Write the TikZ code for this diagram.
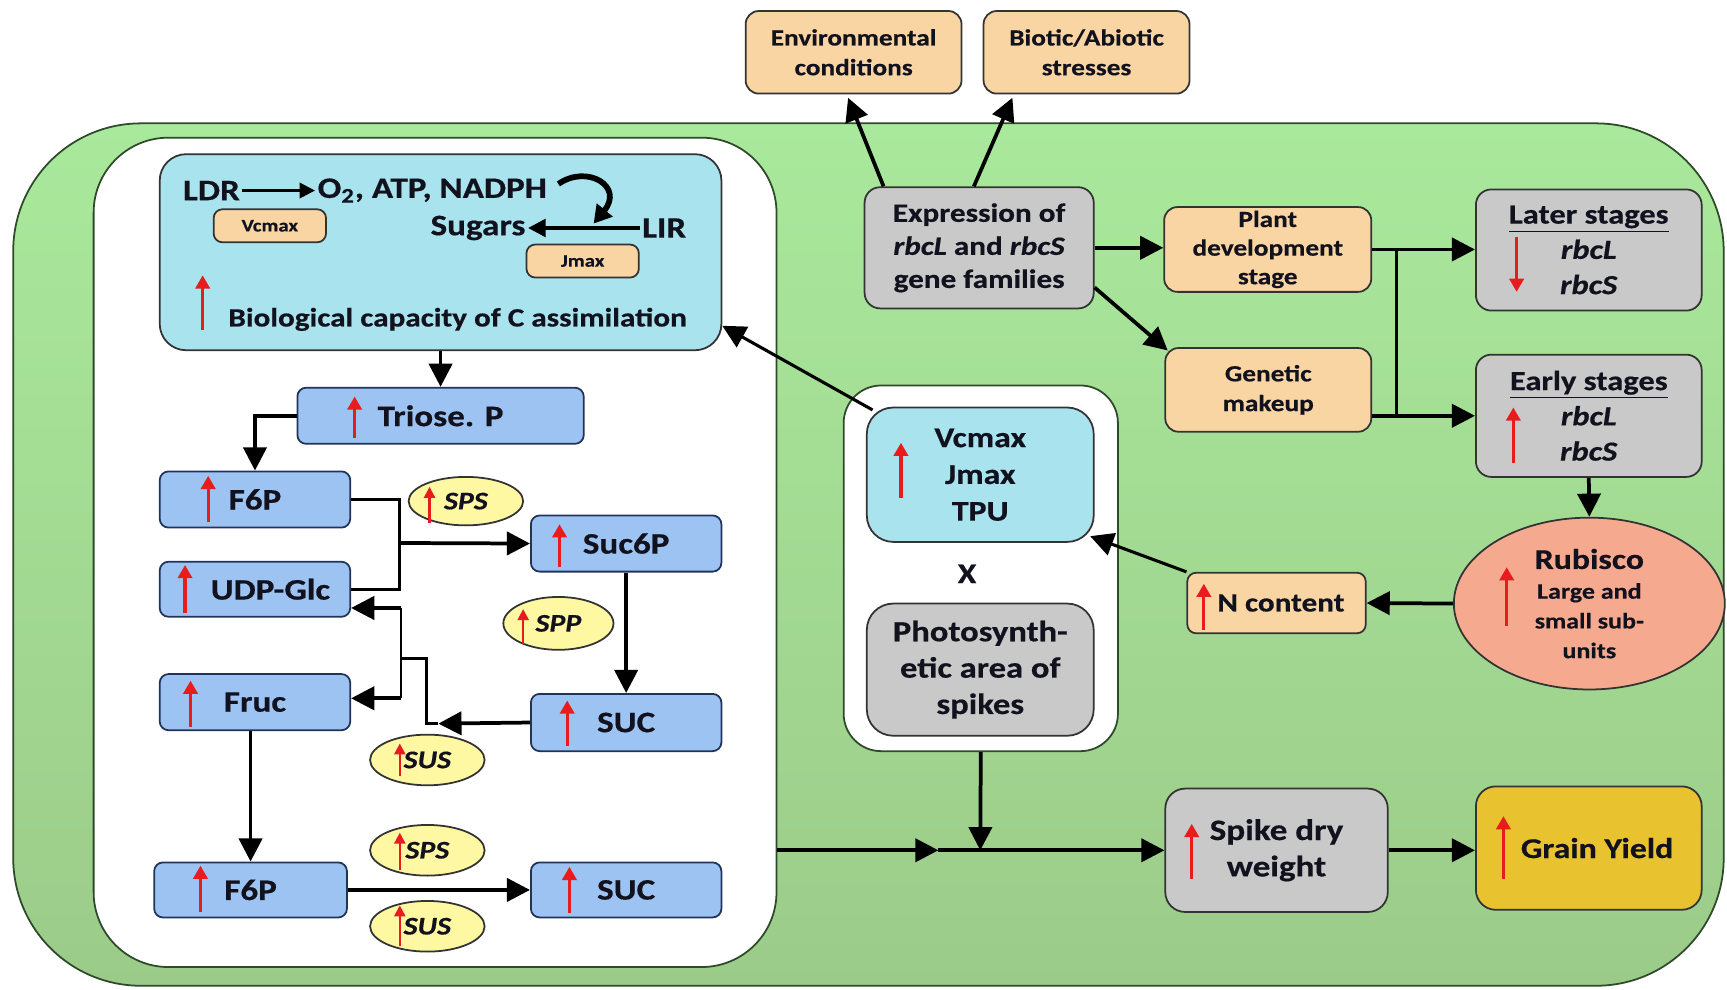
\documentclass[tikz,border=0pt]{standalone}
\usepackage{fontspec}
\setmainfont{Carlito}[FakeStretch=1.18, BoldFeatures={FakeBold=0.5}, BoldItalicFeatures={FakeBold=0.5}]
\usetikzlibrary{arrows.meta,calc,shapes.geometric}
\definecolor{gtop}{HTML}{A9E99C}
\definecolor{gbot}{HTML}{9CCB89}
\definecolor{gedge}{HTML}{2E4A2A}
\definecolor{cyanc}{HTML}{A9E3EE}
\definecolor{bluec}{HTML}{9DC3F3}
\definecolor{blueedge}{HTML}{22335A}
\definecolor{peach}{HTML}{F9D5A3}
\definecolor{greyc}{HTML}{C9C9C9}
\definecolor{yellowc}{HTML}{FFF8A3}
\definecolor{salmon}{HTML}{F5AA90}
\definecolor{gold}{HTML}{E9C22F}
\definecolor{edge}{HTML}{333333}
\definecolor{txt}{HTML}{12121E}
\definecolor{arrred}{HTML}{E81C1C}
\newcommand{\fsz}[2]{\fontsize{#1}{#2}\selectfont}
\begin{document}
\begin{tikzpicture}[x=0.5pt,y=-0.5pt,
  corners/.style args={#1/#2/#3/#4}{at={({(#1+#3)/2},{(#2+#4)/2})}, minimum width={(#3-#1)*0.5pt}, minimum height={(#4-#2)*0.5pt}},
  box/.style={draw=edge, line width=0.8pt, rounded corners=4pt, inner sep=0pt, align=center, text=txt},
  bluebox/.style={box, fill=bluec, draw=blueedge, font=\bfseries\fsz{13.5}{16}},
  cyanbox/.style={box, fill=cyanc},
  peachbox/.style={box, fill=peach},
  greybox/.style={box, fill=greyc, rounded corners=7pt},
  enz/.style={ellipse, draw=edge, line width=0.8pt, fill=yellowc, inner sep=0pt, text=txt, font=\bfseries\itshape\fsz{11.5}{13}},
  panel/.style={draw=gedge, line width=0.8pt, fill=white, inner sep=0pt},
  lbl/.style={inner sep=1pt, text=txt},
  conn/.style={draw=black, line width=1.7pt, -{Triangle[length=10.5pt,width=10.5pt]}},
  plain/.style={draw=black, line width=1.7pt},
  thinplain/.style={draw=black, line width=1.2pt},
  redarr/.style={draw=arrred, line width=1.4pt, -{Triangle[length=6pt,width=6.5pt]}},
  smallred/.style={draw=arrred, line width=1.1pt, -{Triangle[length=5pt,width=5pt]}},
]
\useasboundingbox (0,0) rectangle (1568,898);
\fill[white] (0,0) rectangle (1568,898);

% containers
\node[draw=gedge, line width=0.8pt, top color=gtop, bottom color=gbot, rounded corners=58pt, inner sep=0pt, corners=12/112/1565/895] (outer) {};
\node[panel, rounded corners=34pt, corners=85/125/705/878] (white1) {};
\node[panel, rounded corners=17pt, corners=766/350/1015/682] (white2) {};

% top external boxes
\node[peachbox, rounded corners=6pt, corners=677/10/873/85, font=\bfseries\fsz{10.5}{13.5}] (env) {Environmental\\conditions};
\node[peachbox, rounded corners=6pt, corners=893/10/1080/85, font=\bfseries\fsz{10.5}{13.5}] (bio) {Biotic/Abiotic\\stresses};

% C assimilation panel
\node[cyanbox, rounded corners=12pt, corners=145/140/655/318] (cyanbig) {};
\node[peachbox, corners=194/190/296/220, font=\bfseries\fsz{8}{9}] (vsmall) {Vcmax};
\node[peachbox, corners=478/222/580/252, font=\bfseries\fsz{8}{9}] (jsmall) {Jmax};
\node[lbl, font=\bfseries\fsz{13.5}{15}] (ldr) at (192,173) {LDR};
\node[lbl, anchor=west, font=\bfseries\fsz{13.5}{15}] (o2) at (286,173) {O\textsubscript{2}, ATP, NADPH};
\node[lbl, font=\bfseries\fsz{13.5}{15}] (sugars) at (434,207) {Sugars};
\node[lbl, font=\bfseries\fsz{13.5}{15}] (lir) at (603,207) {LIR};
\node[lbl, anchor=west, font=\bfseries\fsz{12}{14}] (biocap) at (205,290) {Biological capacity of C assimilation};
\draw[draw=black, line width=1.1pt, -{Triangle[length=7pt,width=7pt]}] (ldr.east) -- (o2.west);
\draw[draw=black, line width=1.7pt, -{Triangle[length=8pt,width=8pt]}] (lir.west) -- (sugars.east);
\draw[draw=black, line width=2.6pt, -{Triangle[length=8pt,width=9pt]}] ($(o2.east)+(8,-6)$) .. controls ($(o2.east)+(34,-24)$) and ($(o2.east)+(68,-4)$) .. ($(o2.east)+(40,30)$);

% sugar pathway
\node[bluebox, corners=270/352/530/403] (triose) {Triose. P};
\node[bluebox, corners=145/428/318/479] (f6pa) {F6P};
\node[bluebox, corners=145/510/318/560] (udp) {\hspace*{14pt}UDP-Glc};
\node[bluebox, corners=145/612/318/663] (fruc) {Fruc};
\node[bluebox, corners=140/783/315/833] (f6pb) {F6P};
\node[bluebox, corners=482/468/655/519] (suc6p) {Suc6P};
\node[bluebox, corners=482/630/655/682] (suca) {SUC};
\node[bluebox, corners=482/783/655/833] (sucb) {SUC};
\node[enz, corners=371/433/475/477] (spsa) {SPS};
\node[enz, corners=457/542/557/590] (spp) {SPP};
\node[enz, corners=336/667/440/713] (susa) {SUS};
\node[enz, corners=336/749/440/795] (spsb) {SPS};
\node[enz, corners=336/818/440/864] (susb) {SUS};

\coordinate (j1) at (363,493);
\coordinate (j4) at (398,657);
\coordinate (j5) at (364,552);
\coordinate (j6) at (364,634);
\draw[conn] (cyanbig.south) -- (triose.north);
\draw[conn] (triose.west) -| (f6pa.north);
\draw[thinplain] (f6pa.east) -| (j1) |- (udp.east);
\draw[conn] (j1) -- (suc6p.west);
\draw[conn] (suc6p.south) -- (suca.north);
\draw[conn] (suca.west) -- (j4);
\draw[thinplain] (j4) -- (387,657) -- (387,598) -- (364,598);
\draw[thinplain] (j5) -- (j6);
\draw[conn] (j5) -- (udp.east |- j5);
\draw[conn] (j6) -- (fruc.east |- j6);
\draw[conn] (fruc.south -| f6pb.north) -- (f6pb.north);
\draw[conn] (f6pb.east) -- (sucb.west);

% right side
\node[greybox, corners=785/170/993/280, font=\bfseries\fsz{12}{15}] (expr) {Expression of\\\textit{rbcL} and \textit{rbcS}\\gene families};
\node[peachbox, rounded corners=6pt, corners=1057/188/1245/265, font=\bfseries\fsz{10.5}{13}] (plant) {Plant\\development\\stage};
\node[peachbox, rounded corners=6pt, corners=1058/316/1245/392, font=\bfseries\fsz{10.5}{13.5}] (gen) {Genetic\\makeup};
\node[greybox, corners=1340/172/1545/282, font=\bfseries\fsz{12.5}{16}] (later) {\underline{Later stages}\\\textit{rbcL}\\\textit{rbcS}};
\node[greybox, corners=1340/322/1545/433, font=\bfseries\fsz{12.5}{16}] (early) {\underline{Early stages}\\\textit{rbcL}\\\textit{rbcS}};
\node[ellipse, draw=edge, line width=0.8pt, fill=salmon, inner sep=0pt, align=center, text=txt, font=\bfseries\fsz{10}{13.5}, corners=1320/470/1566/626] (rub) {{\fsz{13}{15}Rubisco}\\Large and\\small sub-\\units};
\node[peachbox, corners=1078/520/1240/575, font=\bfseries\fsz{12}{14}] (ncont) {\hspace*{4pt}N content};
\node[cyanbox, rounded corners=12pt, corners=787/370/993/492, font=\bfseries\fsz{13}{16.7}] (vc) {Vcmax\\Jmax\\TPU};
\node[lbl, font=\bfseries\fsz{13}{15}] (xn) at (878,521) {X};
\node[greybox, rounded corners=12pt, corners=787/548/993/668, font=\bfseries\fsz{13.3}{16.5}] (photo) {Photosynth-\\etic area of\\spikes};
\node[greybox, rounded corners=9pt, corners=1058/716/1260/828, font=\bfseries\fsz{13.5}{16.5}] (spike) {Spike dry\\weight};
\node[box, fill=gold, rounded corners=9pt, corners=1340/714/1545/826, font=\bfseries\fsz{13}{15}] (grain) {\hspace*{7.5pt}Grain Yield};

\coordinate (j7) at (1268,226);
\coordinate (j8) at (890,772);
\coordinate (j9) at (852,772);
\draw[conn] ($(expr.north west)+(18,0)$) -- ($(env.south)+(-5,3)$);
\draw[conn] ($(expr.north west)+(100,0)$) -- ($(bio.south west)+(27,3)$);
\draw[conn] (expr.east) -- (expr.east -| plant.west);
\draw[conn] ($(expr.east)+(0,36)$) -- ($(gen.north west)+(3,3)$);
\draw[conn] (plant.east) -- (plant.east -| later.west);
\draw[plain] (j7) -- (j7 |- early.west);
\draw[conn] (gen.east |- early.west) -- (early.west);
\draw[conn] (early.south) -- (rub.north);
\draw[conn] (rub.west) -- (ncont.east);
\draw[conn, line width=1.4pt] (ncont.north west) -- ($(vc.south east)+(-4,-6)$);
\draw[conn, line width=1.4pt] ($(vc.north west)+(6,3)$) -- ($(cyanbig.south east)+(0,-23)$);
\draw[conn] (white2.south) -- (j8);
\draw[conn] (white1.east |- spike.west) -- (j9);
\draw[conn] (j9) -- (spike.west);
\draw[conn] (spike.east) -- (spike.east -| grain.west);

% red arrows
\draw[redarr] (184,300) -- (184,250);
\draw[redarr] (322,398) -- (322,360);
\draw[redarr] (189,474) -- (189,432);
\draw[redarr] (168,557) -- (168,513);
\draw[redarr] (173,660) -- (173,618);
\draw[redarr] (182,828) -- (182,786);
\draw[redarr] (508,515) -- (508,476);
\draw[redarr] (515,677) -- (515,636);
\draw[redarr] (517,829) -- (517,787);
\draw[smallred] (390,475) -- (390,442);
\draw[smallred] (475,585) -- (475,553);
\draw[smallred] (363,705) -- (363,675);
\draw[smallred] (363,790) -- (363,756);
\draw[smallred] (363,859) -- (363,822);
\draw[redarr] (818,452) -- (818,402);
\draw[redarr] (1377,215) -- (1377,265);
\draw[redarr] (1374,420) -- (1374,370);
\draw[redarr] (1368,568) -- (1368,515);
\draw[redarr] (1093,572) -- (1093,530);
\draw[redarr] (1082,798) -- (1082,748);
\draw[redarr] (1365,798) -- (1365,741);
\end{tikzpicture}
\end{document}
